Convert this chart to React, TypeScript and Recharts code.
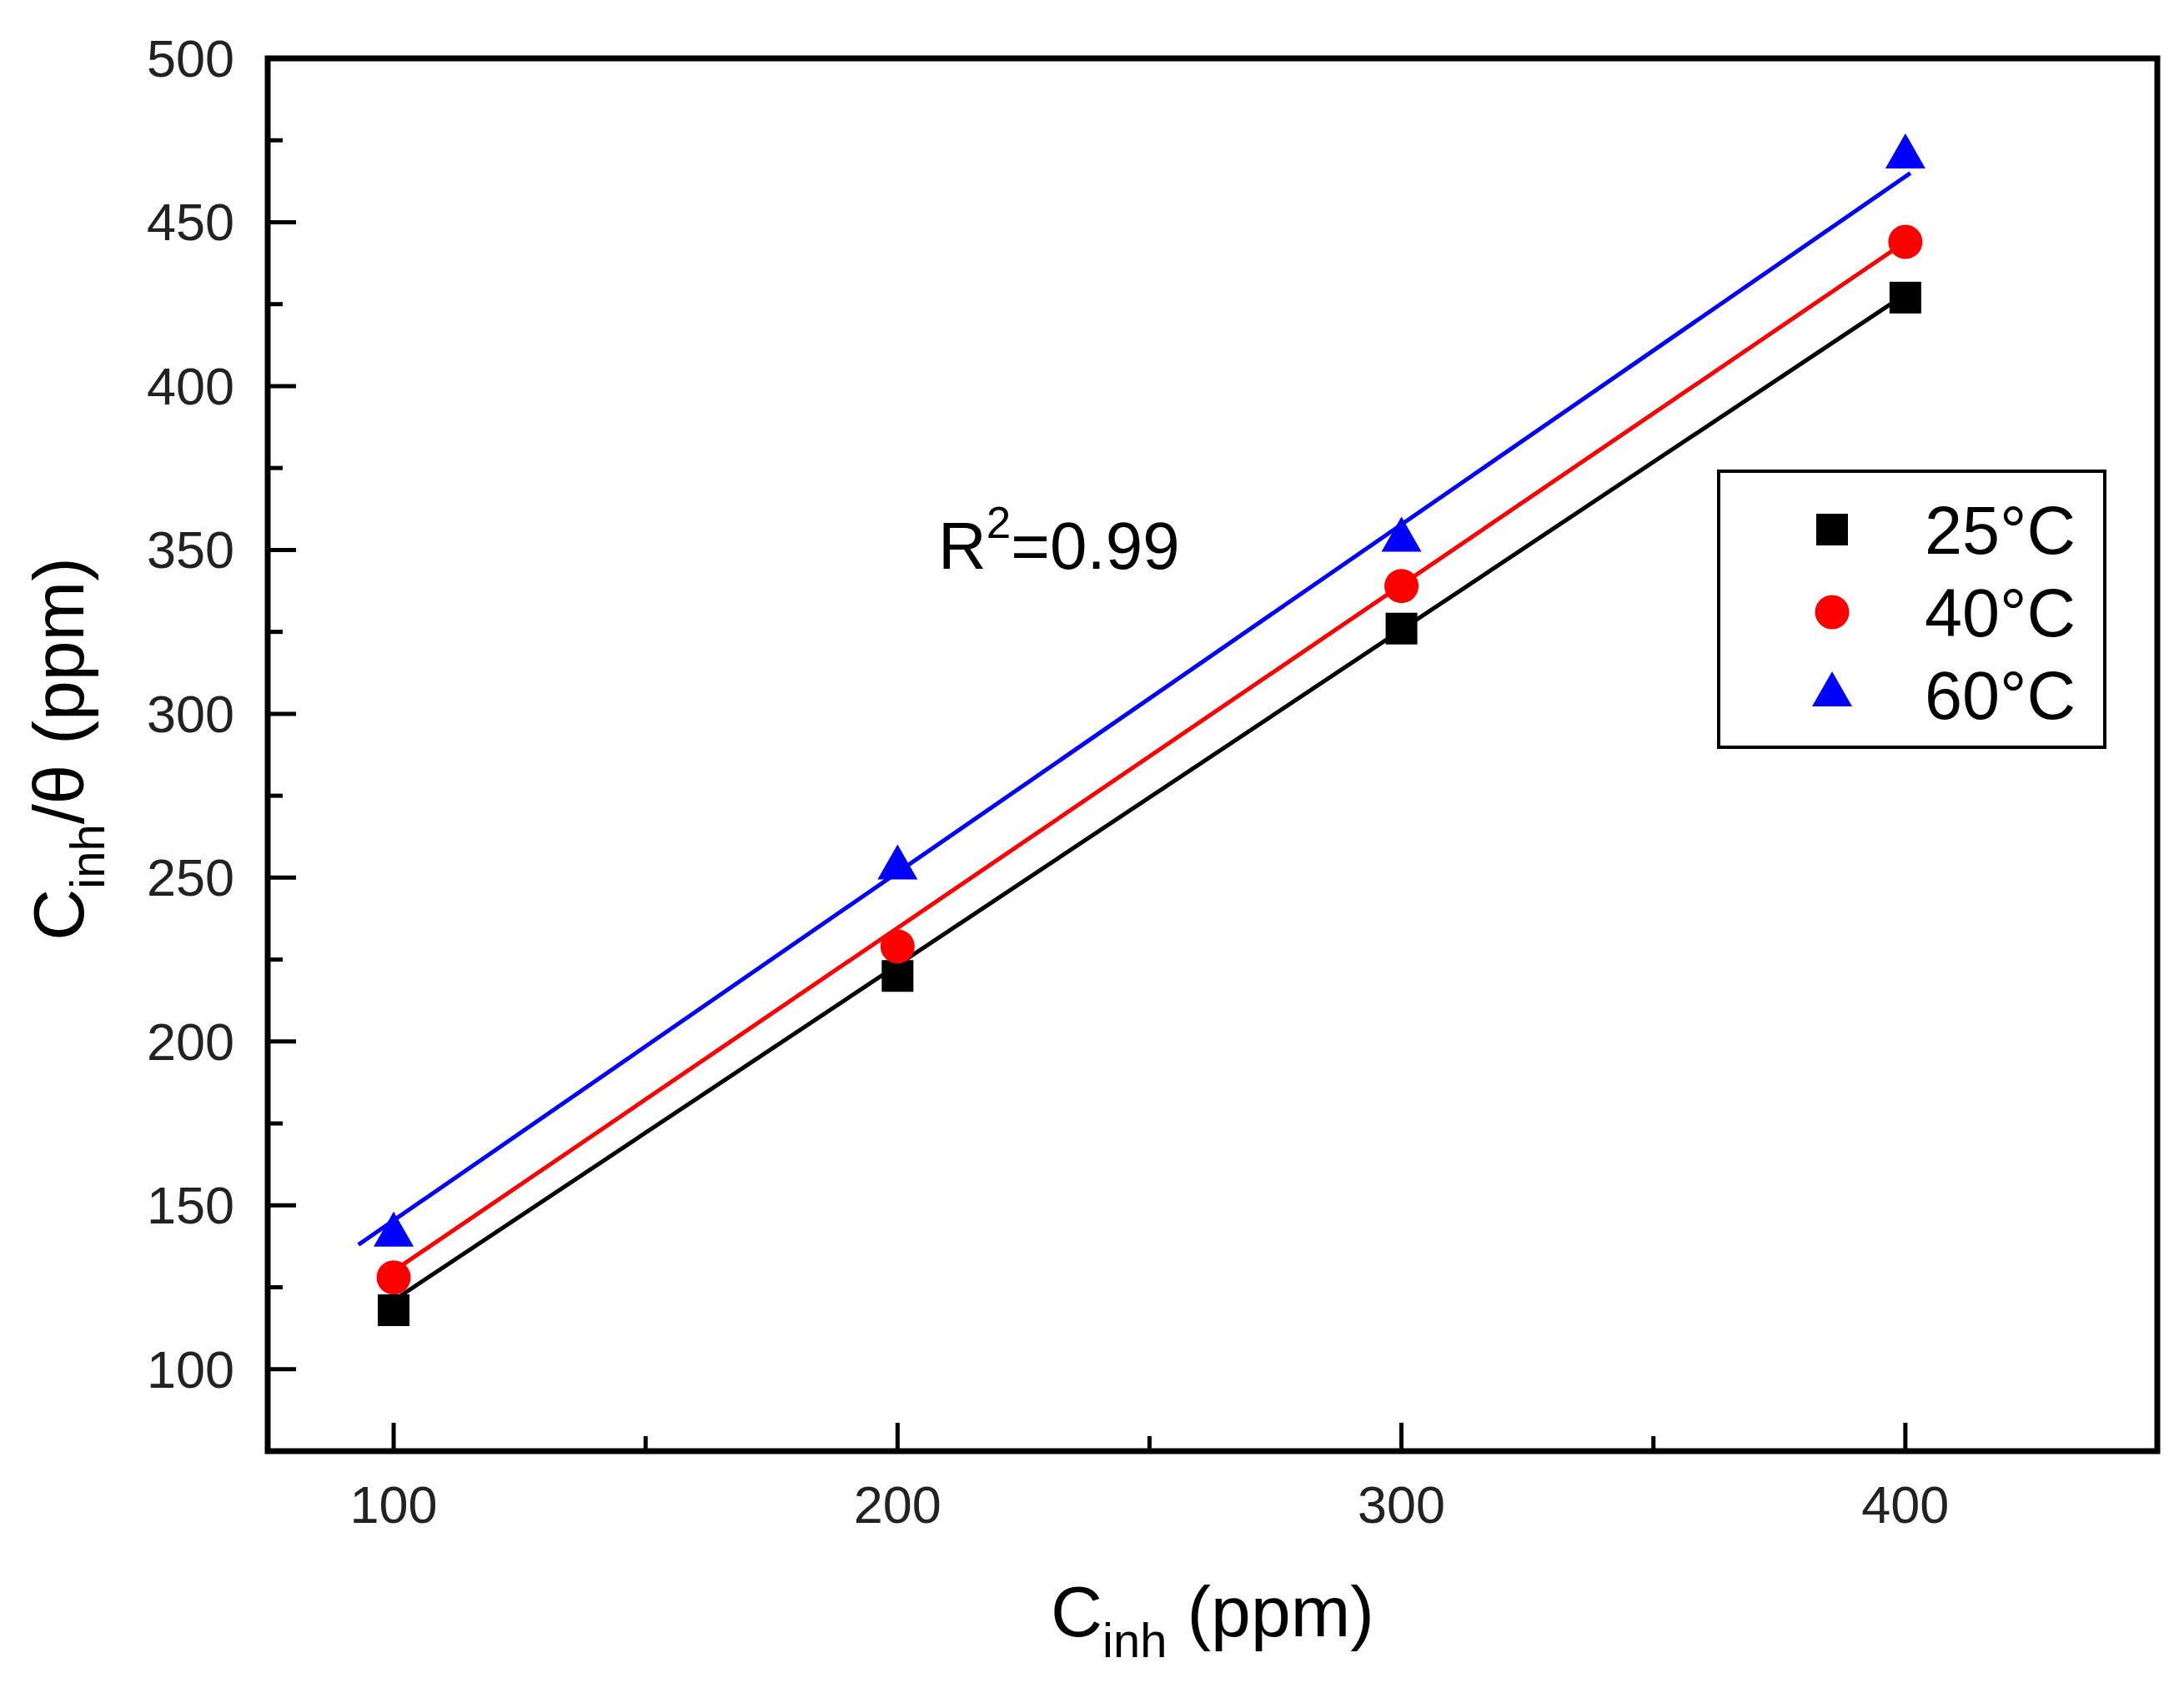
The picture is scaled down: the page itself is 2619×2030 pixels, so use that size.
import React from "react";
import { ScatterChart, Scatter, XAxis, YAxis, Legend, ReferenceArea } from "recharts";

// C_inh (ppm)
const concentrations = [100, 200, 300, 400];
// C_inh/theta (ppm) at each temperature
const ratio25 = [118, 220, 326, 427];
const ratio40 = [128, 229, 339, 444];
const ratio60 = [141, 253, 353, 470];

// fitted straight lines, end points
const fitX25 = [100, 400];
const fitY25 = [121, 428];
const fitX40 = [100, 400];
const fitY40 = [130, 444];
const fitX60 = [93, 401];
const fitY60 = [138, 465];

const xTicks = [100, 150, 200, 250, 300, 350, 400];
const xLabelled = [100, 200, 300, 400];
const yTicks = [100, 125, 150, 175, 200, 225, 250, 275, 300, 325, 350, 375, 400, 425, 450, 475, 500];
const yLabelled = [100, 150, 200, 250, 300, 350, 400, 450, 500];

const FONT = "'Liberation Sans', Arial, sans-serif";

const toPoints = (xs: number[], ys: number[]) => xs.map((x, i) => ({ x, y: ys[i] }));

const Marker = ({ cx, cy, kind, color }: any) => {
    if (kind === "square") {
        return <rect x={cx - 19} y={cy - 19} width={38} height={38} fill={color} />;
    }
    if (kind === "circle") {
        return <circle cx={cx} cy={cy} r={20.5} fill={color} />;
    }
    return <polygon points={`${cx},${cy - 28} ${cx - 24},${cy + 14} ${cx + 24},${cy + 14}`} fill={color} />;
};

const XTick = ({ x, y, payload }: any) => {
    const major = xLabelled.includes(payload.value);
    return (
        <g>
            <line x1={x} y1={y} x2={x} y2={y - (major ? 34 : 18)} stroke="#000" strokeWidth={5} />
            {major && (
                <text x={x} y={y + 86} textAnchor="middle" fontSize={63} fontFamily={FONT} fill="#222">
                    {payload.value}
                </text>
            )}
        </g>
    );
};

const YTick = ({ x, y, payload }: any) => {
    const major = yLabelled.includes(payload.value);
    return (
        <g>
            <line x1={x} y1={y} x2={x + (major ? 34 : 18)} y2={y} stroke="#000" strokeWidth={5} />
            {major && (
                <text x={x - 40} y={y + 22} textAnchor="end" fontSize={63} fontFamily={FONT} fill="#222">
                    {payload.value}
                </text>
            )}
        </g>
    );
};

const XTitle = ({ viewBox }: any) => (
    <text x={viewBox.x + viewBox.width / 2} y={viewBox.y + 222} textAnchor="middle"
        fontSize={86} fontFamily={FONT} fill="#000">
        C<tspan fontSize={58} dy={25}>inh</tspan>
        <tspan dy={-25}> (ppm)</tspan>
    </text>
);

const YTitle = ({ viewBox }: any) => {
    const cx = 100;
    const cy = viewBox.y + viewBox.height / 2 - 7;
    return (
        <text x={cx} y={cy} transform={`rotate(-90 ${cx} ${cy})`} textAnchor="middle"
            fontSize={86} fontFamily={FONT} fill="#000">
            C<tspan fontSize={58} dy={25}>inh</tspan>
            <tspan dy={-25}>/θ (ppm)</tspan>
        </text>
    );
};

const LegendBox = ({ payload }: any) => {
    const items = (payload || []).filter((p: any) => p.type !== "none");
    return (
        <svg width={467} height={335} style={{ display: "block" }}>
            <rect x={2} y={2} width={463} height={331} fill="#fff" stroke="#000" strokeWidth={4} />
            {items.map((p: any, i: number) => {
                const cy = 72 + i * 99;
                return (
                    <g key={p.value}>
                        <Marker cx={138} cy={cy} kind={p.type} color={p.color} />
                        <text x={249} y={cy + 29} fontSize={81} fontFamily={FONT} fill="#000">
                            {p.value}
                        </text>
                    </g>
                );
            })}
        </svg>
    );
};

const series = [
    { name: "25°C", kind: "square", color: "#000000", values: ratio25, fx: fitX25, fy: fitY25 },
    { name: "40°C", kind: "circle", color: "#ff0000", values: ratio40, fx: fitX40, fy: fitY40 },
    { name: "60°C", kind: "triangle", color: "#0000ff", values: ratio60, fx: fitX60, fy: fitY60 },
];

const App = () => {
    return (
        <div style={{ position: "relative", width: 2619, height: 2030, background: "#fff" }}>
            <style>{"body{margin:0}"}</style>
            <ScatterChart width={2619} height={2030}
                margin={{ top: 70, right: 32, bottom: 190, left: 221 }}>

                <XAxis type="number" dataKey="x" domain={[75, 450]} allowDataOverflow
                    ticks={xTicks} interval={0} height={100}
                    axisLine={false} tickLine={false} tickSize={0} tickMargin={0}
                    tick={(p: any) => <XTick {...p} />}
                    label={{ content: (p: any) => <XTitle {...p} /> }} />

                <YAxis type="number" dataKey="y" domain={[75, 500]} allowDataOverflow
                    ticks={yTicks} interval={0} width={100}
                    axisLine={false} tickLine={false} tickSize={0} tickMargin={0}
                    tick={(p: any) => <YTick {...p} />}
                    label={{ content: (p: any) => <YTitle {...p} /> }} />

                <ReferenceArea x1={75} x2={450} y1={75} y2={500}
                    fill="none" stroke="#000" strokeWidth={7} />

                {series.map((s) => (
                    <Scatter key={s.name + "-fit"} data={toPoints(s.fx, s.fy)}
                        fill={s.color} stroke={s.color} strokeWidth={5}
                        line={{ stroke: s.color, strokeWidth: 5 }}
                        shape={() => <g />} legendType="none"
                        isAnimationActive={false} />
                ))}

                {series.map((s) => (
                    <Scatter key={s.name} name={s.name} data={toPoints(concentrations, s.values)}
                        fill={s.color} legendType={s.kind as any}
                        shape={(p: any) => <Marker cx={p.cx} cy={p.cy} kind={s.kind} color={s.color} />}
                        isAnimationActive={false} />
                ))}

                <Legend layout="horizontal" verticalAlign="middle" align="center"
                    wrapperStyle={{ left: 2059, top: 563, width: 467, height: 335 }}
                    content={<LegendBox />} />
            </ScatterChart>

            <svg width={2619} height={2030} style={{ position: "absolute", left: 0, top: 0, pointerEvents: "none" }}>
                <text x={1125} y={682} fontSize={80} fontFamily={FONT} fill="#000">
                    R<tspan fontSize={53} dy={-37}>2</tspan>
                    <tspan dy={37}>=0.99</tspan>
                </text>
            </svg>
        </div>
    );
};

export default App;
